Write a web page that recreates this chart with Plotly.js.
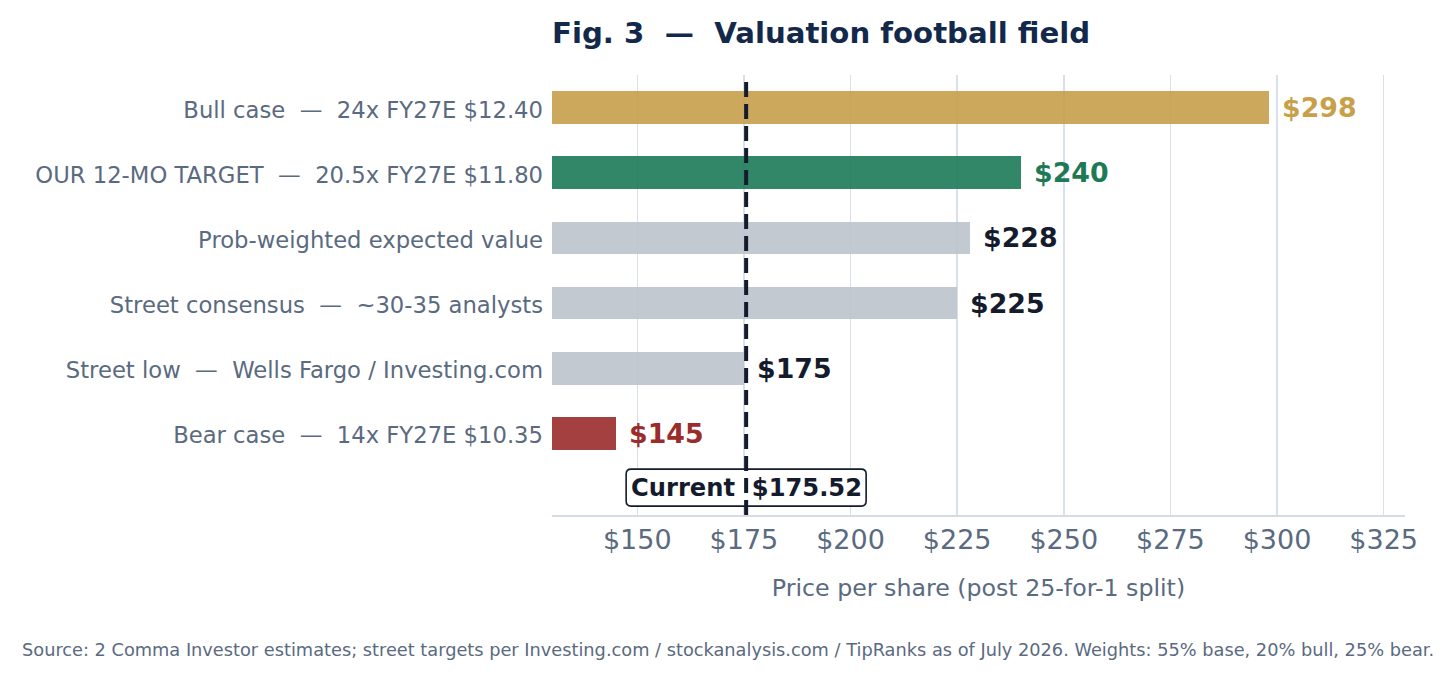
<!DOCTYPE html>
<html>
<head>
<meta charset="utf-8">
<script src="https://cdn.plot.ly/plotly-3.0.1.min.js"></script>
<style>
  html, body { margin: 0; padding: 0; background: #ffffff; }
  #chart { width: 1453px; height: 679px; }
</style>
</head>
<body>
<div id="chart"></div>
<script>
// Valuation scenarios, top to bottom
const scenarios = [
  "Bull case  —  24x FY27E $12.40",
  "OUR 12-MO TARGET  —  20.5x FY27E $11.80",
  "Prob-weighted expected value",
  "Street consensus  —  ~30-35 analysts",
  "Street low  —  Wells Fargo / Investing.com",
  "Bear case  —  14x FY27E $10.35"
];
const prices = [298, 240, 228, 225, 175, 145];
const barColors = ["#C59F4A", "#1C7A59", "#BCC3CC", "#BCC3CC", "#BCC3CC", "#9A2B2B"];
const labelColors = ["#C9A04A", "#1E7A55", "#141B2D", "#141B2D", "#141B2D", "#9B2C2C"];
const currentPrice = 175.52;
const xTicks = [150, 175, 200, 225, 250, 275, 300, 325];

const FONT = "DejaVu Sans, Verdana, sans-serif";
const GREY = "#5A6A80";
const NAVY = "#13294B";
const INK = "#141B2D";

// keep the double spaces around the dashes
const keepSpaces = s => s.replace(/ {2}/g, "\u00A0\u00A0");

const rows = scenarios.map((_, i) => i);

const trace = {
  type: "bar",
  orientation: "h",
  y: rows,
  x: prices,
  width: 0.5,
  marker: { color: barColors, opacity: 0.9, line: { width: 0 } },
  hoverinfo: "skip"
};

// value labels just past the end of each bar
const valueLabels = prices.map((p, i) => ({
  x: p, y: i, xref: "x", yref: "y",
  text: "$" + p,
  showarrow: false,
  xanchor: "left", yanchor: "middle",
  xshift: 11,
  font: { family: FONT, size: 26.8, color: labelColors[i], weight: "bold" }
}));

const currentRow = 5.83;

const layout = {
  width: 1453, height: 679,
  paper_bgcolor: "#ffffff", plot_bgcolor: "#ffffff",
  margin: { l: 552, r: 48, t: 75, b: 164 },
  showlegend: false,
  bargap: 0,
  title: {
    text: keepSpaces("<b>Fig. 3  —  Valuation football field</b>"),
    x: 0, xref: "paper", xanchor: "left",
    y: 1 - 33 / 679, yref: "container", yanchor: "middle",
    font: { family: FONT, size: 29.2, color: NAVY }
  },
  xaxis: {
    range: [130, 330],
    tickvals: xTicks,
    ticktext: xTicks.map(v => "$" + v),
    ticks: "",
    ticklabelstandoff: 0,
    tickfont: { family: FONT, size: 27, color: GREY },
    showgrid: true, gridcolor: "#DAE0E9", gridwidth: 1.4,
    zeroline: false,
    showline: true, linecolor: "#D5DCE6", linewidth: 1.5,
    title: {
      text: "Price per share (post 25-for-1 split)",
      font: { family: FONT, size: 23.7, color: GREY },
      standoff: 25
    },
    fixedrange: true
  },
  yaxis: {
    range: [6.25, -0.5],
    tickvals: rows,
    ticktext: scenarios.map(keepSpaces),
    ticks: "",
    ticklabelstandoff: 8,
    ticklabelshift: -2,
    tickfont: { family: FONT, size: 22.7, color: GREY },
    showgrid: false, zeroline: false, showline: false,
    fixedrange: true
  },
  shapes: [
    // box behind the current-price tag
    {
      type: "path", layer: "above",
      xref: "x", yref: "y",
      xsizemode: "pixel", ysizemode: "pixel",
      xanchor: currentPrice, yanchor: currentRow,
      path: "M -115,-18.5 L 115,-18.5 Q 120,-18.5 120,-13.5 L 120,13.5 Q 120,18.5 115,18.5 " +
            "L -115,18.5 Q -120,18.5 -120,13.5 L -120,-13.5 Q -120,-18.5 -115,-18.5 Z",
      fillcolor: "#ffffff",
      line: { color: INK, width: 1.6 }
    },
    // current share price
    {
      type: "line", layer: "above",
      xref: "x", yref: "paper",
      x0: currentPrice, x1: currentPrice, y0: 0, y1: 1,
      line: { color: INK, width: 4, dash: "15px,7px" }
    }
  ],
  annotations: valueLabels.concat([
    {
      x: currentPrice, y: currentRow, xref: "x", yref: "y",
      text: keepSpaces("Current  $175.52"),
      showarrow: false, xanchor: "center", yanchor: "middle",
      font: { family: FONT, size: 24.2, color: INK, weight: "bold" }
    },
    {
      x: (20 - 552) / 853, y: (515 - 650) / 440, xref: "paper", yref: "paper",
      text: "Source: 2 Comma Investor estimates; street targets per Investing.com / stockanalysis.com / TipRanks as of July 2026. Weights: 55% base, 20% bull, 25% bear.",
      showarrow: false, xanchor: "left", yanchor: "middle",
      font: { family: FONT, size: 17.75, color: GREY }
    }
  ])
};

Plotly.newPlot("chart", [trace], layout, { displayModeBar: false, staticPlot: true });
</script>
</body>
</html>
